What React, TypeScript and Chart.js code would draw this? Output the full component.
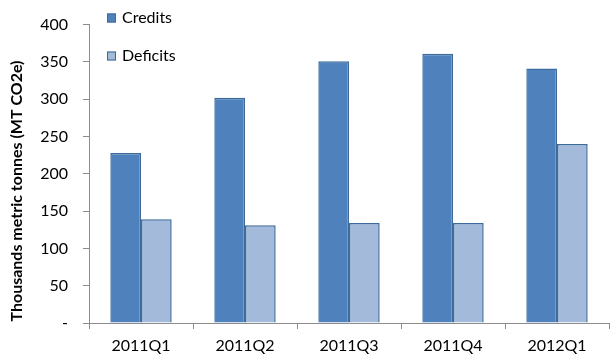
import React, { useEffect, useRef } from "react";
import { Chart, registerables } from "chart.js";

Chart.register(...registerables);

const categories = ["2011Q1", "2011Q2", "2011Q3", "2011Q4", "2012Q1"];
const credits = [228, 302, 351, 361, 341];
const deficits = [139, 131, 134, 134, 240];
const yTicks = [0, 50, 100, 150, 200, 250, 300, 350, 400];
const yTitle = "Thousands metric tonnes (MT CO2e)";
const FONT = "Lato, 'Open Sans', sans-serif";

const customPlugin = {
  id: "custom",
  afterDraw(chart: any) {
    const ctx = chart.ctx;
    const area = chart.chartArea;
    ctx.save();
    const items = chart.data.datasets.map((d: any) => ({ label: d.label, fill: d.backgroundColor, border: d.borderColor }));
    items.forEach((it: any, i: number) => {
      const cy = 18 + i * 38;
      const sx = area.left + 18;
      ctx.fillStyle = it.fill;
      ctx.fillRect(sx, cy - 4.5, 9, 9);
      ctx.strokeStyle = it.border;
      ctx.lineWidth = 1;
      ctx.strokeRect(sx + 0.5, cy - 4, 8, 8);
      ctx.fillStyle = "#000";
      ctx.font = `16px ${FONT}`;
      ctx.textAlign = "left";
      ctx.textBaseline = "middle";
      ctx.fillText(it.label, sx + 15, cy);
    });
    ctx.translate(17, 191);
    ctx.rotate(-Math.PI / 2);
    ctx.font = `bold 16px ${FONT}`;
    ctx.fillStyle = "#000";
    ctx.textAlign = "center";
    ctx.textBaseline = "middle";
    ctx.fillText(yTitle, 0, 0);
    ctx.restore();
  },
};

export default function App() {
  const ref = useRef<HTMLCanvasElement>(null);
  useEffect(() => {
    document.body.style.margin = "0";
    const chart = new Chart(ref.current!, {
      type: "bar",
      data: {
        labels: categories,
        datasets: [
          { label: "Credits", data: credits, backgroundColor: "#4F81BD", borderColor: "#3D6B9C", borderWidth: 1.5 },
          { label: "Deficits", data: deficits, backgroundColor: "#A3BADA", borderColor: "#3D6B9C", borderWidth: 1.5 },
        ],
      },
      options: {
        animation: false,
        responsive: false,
        maintainAspectRatio: false,
        layout: { padding: { top: 20, right: 3, bottom: 0, left: 0 } },
        datasets: { bar: { categoryPercentage: 0.59, barPercentage: 1 } },
        plugins: { legend: { display: false }, tooltip: { enabled: false } },
        scales: {
          x: {
            offset: true,
            grid: { offset: true, drawOnChartArea: false, tickLength: 6, color: "#8C8C8C", lineWidth: 1 },
            border: { color: "#8C8C8C", width: 1 },
            ticks: { color: "#000", font: { family: FONT, size: 16 }, padding: 7, maxRotation: 0 },
            afterFit: (s: any) => { s.height = 35; },
          },
          y: {
            min: 0,
            max: 400,
            afterBuildTicks: (s: any) => { s.ticks = yTicks.map((v) => ({ value: v })); },
            grid: { drawOnChartArea: false, tickLength: 6, color: "#8C8C8C", lineWidth: 1 },
            border: { color: "#8C8C8C", width: 1 },
            ticks: {
              color: "#000",
              font: { family: FONT, size: 16 },
              padding: 15,
              callback: (v: any) => (v === 0 ? "-" : String(v)),
            },
            afterFit: (s: any) => { s.width = 89; },
          },
        },
      },
      plugins: [customPlugin],
    });
    return () => chart.destroy();
  }, []);
  return (
    <div style={{ width: 612, height: 358 }}>
      <canvas ref={ref} width={612} height={358} style={{ width: 612, height: 358 }} />
    </div>
  );
}
